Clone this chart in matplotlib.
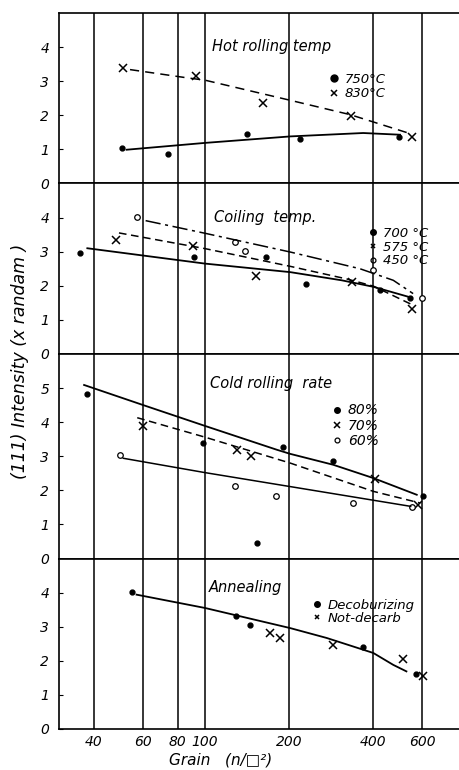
import matplotlib
matplotlib.use('Agg')
import matplotlib.pyplot as plt
from matplotlib.lines import Line2D

plt.rcParams['font.family'] = ['DejaVu Sans']
plt.rcParams['font.style'] = 'italic'

GRID_X = [40, 60, 80, 100, 200, 400, 600]

# --- Hot rolling temp ---
hot_750_x = [50.3, 73.5, 141.8, 219, 496]
hot_750_y = [1.03, 0.87, 1.46, 1.30, 1.37]
hot_830_x = [51.0, 92.8, 161, 333, 553]
hot_830_y = [3.38, 3.15, 2.35, 1.99, 1.36]
hot_750_fit_x = [52.4, 100, 202, 369, 500]
hot_750_fit_y = [0.99, 1.19, 1.38, 1.48, 1.43]
hot_830_fit_x = [53.9, 86, 100, 202, 331, 535]
hot_830_fit_y = [3.34, 3.10, 3.03, 2.44, 2.02, 1.48]

# --- Coiling temp ---
coil_700_x = [35.6, 91.5, 166, 231, 424, 543]
coil_700_y = [2.96, 2.84, 2.85, 2.05, 1.87, 1.63]
coil_575_x = [47.9, 90.8, 153, 336, 553]
coil_575_y = [3.33, 3.17, 2.29, 2.11, 1.32]
coil_450_x = [57.2, 128, 139.5, 399, 601]
coil_450_y = [4.01, 3.28, 3.03, 2.45, 1.64]
coil_700_fit_x = [37.9, 100, 202, 309, 401, 550]
coil_700_fit_y = [3.10, 2.65, 2.40, 2.16, 1.97, 1.65]
coil_575_fit_x = [49.2, 100, 202, 322, 401, 557]
coil_575_fit_y = [3.55, 3.09, 2.57, 2.20, 1.99, 1.43]
coil_450_fit_x = [61.3, 100, 202, 359, 473, 557]
coil_450_fit_y = [3.91, 3.54, 2.99, 2.50, 2.16, 1.77]

# --- Cold rolling rate ---
cold_80_x = [37.9, 98.6, 154, 190, 287, 606]
cold_80_y = [4.82, 3.38, 0.46, 3.27, 2.87, 1.84]
cold_70_x = [60.1, 129.8, 145.8, 406, 582]
cold_70_y = [3.89, 3.19, 3.01, 2.33, 1.58]
cold_60_x = [49.7, 128, 180, 340, 553]
cold_60_y = [3.03, 2.13, 1.84, 1.62, 1.50]
cold_80_fit_x = [36.9, 60.1, 100, 181, 202, 288, 401, 574]
cold_80_fit_y = [5.09, 4.50, 3.89, 3.19, 3.07, 2.75, 2.36, 1.87]
cold_70_fit_x = [57.2, 100, 202, 401, 589]
cold_70_fit_y = [4.13, 3.56, 2.80, 1.97, 1.63]
cold_60_fit_x = [51, 100, 202, 401, 546]
cold_60_fit_y = [2.94, 2.52, 2.11, 1.71, 1.53]

# --- Annealing ---
ann_dec_x = [54.9, 129, 145, 367, 570]
ann_dec_y = [4.01, 3.30, 3.06, 2.40, 1.62]
ann_not_x = [171, 185, 287, 511, 603]
ann_not_y = [2.81, 2.67, 2.47, 2.05, 1.56]
ann_fit_x = [56.9, 100, 202, 273, 401, 473, 527]
ann_fit_y = [3.94, 3.55, 2.96, 2.67, 2.23, 1.88, 1.69]

titles = ['Hot rolling temp', 'Coiling  temp.', 'Cold rolling  rate', 'Annealing']
ylims = [5, 5, 6, 5]
yticks = [[0, 1, 2, 3, 4], [0, 1, 2, 3, 4], [0, 1, 2, 3, 4, 5], [0, 1, 2, 3, 4]]

DOT = dict(ls='none', marker='o', color='k', ms=3.5)
CROSS = dict(ls='none', marker='x', color='k', ms=6, mew=1.1)
CIRC = dict(ls='none', marker='o', mfc='white', mec='k', ms=4, mew=0.9)

fig = plt.figure(figsize=(4.6, 7.7), dpi=100)
gs = fig.add_gridspec(4, 1, height_ratios=ylims, hspace=0,
                      left=59 / 460, right=1.0, top=1 - 13 / 770, bottom=1 - 729 / 770)
axes = [fig.add_subplot(gs[i]) for i in range(4)]

for i, ax in enumerate(axes):
    ax.set_xscale('log')
    ax.set_xlim(30, 820)
    ax.set_ylim(0, ylims[i])
    for g in GRID_X:
        ax.axvline(g, color='k', lw=1.1, zorder=1)
    ax.spines['right'].set_visible(False)
    for s in ['left', 'top', 'bottom']:
        ax.spines[s].set_linewidth(1.2)
    ax.set_yticks(yticks[i])
    ax.set_yticklabels([str(t) for t in yticks[i]], fontsize=10)
    ax.tick_params(axis='y', direction='in', length=3, pad=7)
    ax.minorticks_off()
    ax.set_xticks(GRID_X)
    if i < 3:
        ax.set_xticklabels([])
    else:
        ax.set_xticklabels([str(g) for g in GRID_X], fontsize=10)
    ax.tick_params(axis='x', length=0, pad=4)

def leg(ax, handles, x, y, fs, sp):
    lg = ax.legend(handles=handles, loc='center left', bbox_to_anchor=(x, y),
                   frameon=False, fontsize=fs, handlelength=0.6, handletextpad=0.5,
                   labelspacing=sp, borderpad=0, borderaxespad=0)
    lg.set_zorder(0.5)

# panel 1
ax = axes[0]
ax.plot(hot_750_x, hot_750_y, **DOT)
ax.plot(hot_830_x, hot_830_y, **CROSS)
ax.plot(hot_750_fit_x, hot_750_fit_y, 'k-', lw=1.3)
ax.plot(hot_830_fit_x, hot_830_fit_y, 'k--', lw=1.1, dashes=(6, 4))
ax.text(106, 4.03, titles[0], fontsize=10.5, va='center')
leg(ax, [Line2D([], [], label='750°C', **{**DOT, 'ms': 5}),
         Line2D([], [], label='830°C', **{**CROSS, 'ms': 4})], 0.676, 0.568, 9.5, 0.1)

# panel 2
ax = axes[1]
ax.plot(coil_700_x, coil_700_y, **DOT)
ax.plot(coil_575_x, coil_575_y, **CROSS)
ax.plot(coil_450_x, coil_450_y, **CIRC)
ax.plot(coil_700_fit_x, coil_700_fit_y, 'k-', lw=1.3)
ax.plot(coil_575_fit_x, coil_575_fit_y, 'k--', lw=1.1, dashes=(5, 3))
ax.plot(coil_450_fit_x, coil_450_fit_y, 'k-.', lw=1.1, dashes=(10, 3, 2, 3))
ax.text(108, 4.01, titles[1], fontsize=10.5, va='center')
leg(ax, [Line2D([], [], label='700 °C', **{**DOT, 'ms': 4}),
         Line2D([], [], label='575 °C', **{**CROSS, 'ms': 3.5}),
         Line2D([], [], label='450 °C', **{**CIRC, 'ms': 3.5})], 0.773, 0.626, 9.5, 0.05)

# panel 3
ax = axes[2]
ax.plot(cold_80_x, cold_80_y, **DOT)
ax.plot(cold_70_x, cold_70_y, **CROSS)
ax.plot(cold_60_x, cold_60_y, **CIRC)
ax.plot(cold_80_fit_x, cold_80_fit_y, 'k-', lw=1.3)
ax.plot(cold_70_fit_x, cold_70_fit_y, 'k--', lw=1.1, dashes=(5, 3))
ax.plot(cold_60_fit_x, cold_60_fit_y, 'k-', lw=1.1)
ax.text(104, 5.14, titles[2], fontsize=10.5, va='center')
leg(ax, [Line2D([], [], label='80%', **{**DOT, 'ms': 4}),
         Line2D([], [], label='70%', **{**CROSS, 'ms': 4}),
         Line2D([], [], label='60%', **{**CIRC, 'ms': 3.5})], 0.682, 0.649, 10, 0.1)

# panel 4
ax = axes[3]
ax.plot(ann_dec_x, ann_dec_y, **DOT)
ax.plot(ann_not_x, ann_not_y, **CROSS)
ax.plot(ann_fit_x, ann_fit_y, 'k-', lw=1.3)
ax.text(103, 4.14, titles[3], fontsize=10.5, va='center')
leg(ax, [Line2D([], [], label='Decoburizing', **{**DOT, 'ms': 4}),
         Line2D([], [], label='Not-decarb', **{**CROSS, 'ms': 3.5})], 0.633, 0.686, 9.5, 0.0)

fig.text(221 / 460, 1 - 760 / 770, 'Grain   (n/□²)', fontsize=11, ha='center', va='center')
fig.text(20 / 460, 1 - 361 / 770, '(111) Intensity (x randam )', fontsize=12.5,
         rotation=90, ha='center', va='center')

fig.savefig('out.png', dpi=100)
